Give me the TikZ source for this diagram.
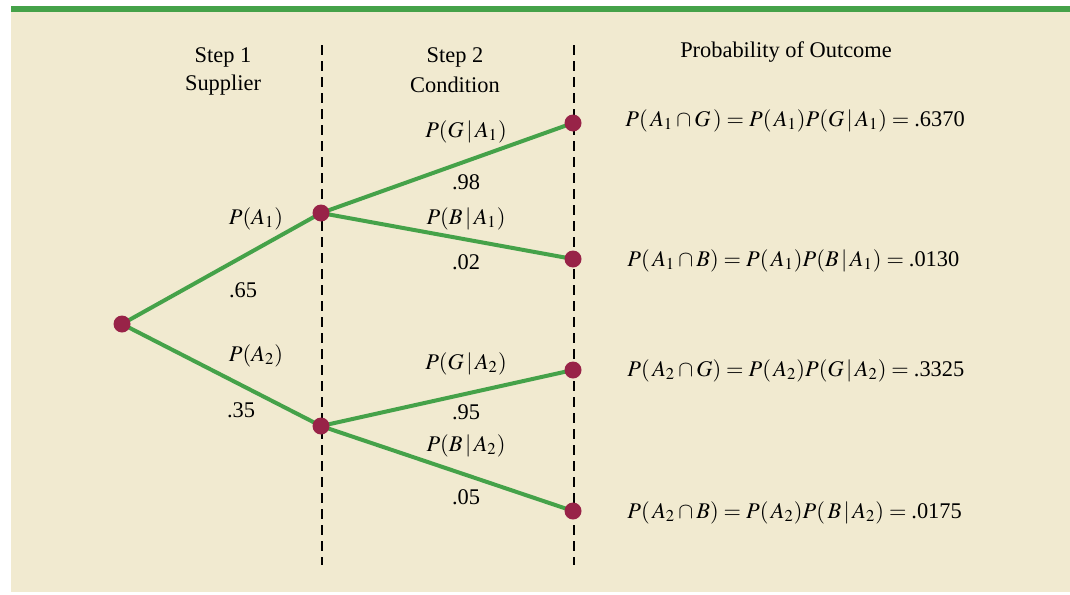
\documentclass[tikz,border=0pt]{standalone}
\usetikzlibrary{backgrounds}
\usepackage{mathptmx}
\usepackage[no-math]{fontspec}
\setmainfont{Liberation Serif}
\definecolor{cream}{HTML}{F1EAD0}
\definecolor{tgreen}{HTML}{45A249}
\definecolor{dotred}{HTML}{982348}
\begin{document}
\begin{tikzpicture}[x=0.5pt,y=-0.5pt,
  every node/.style={font=\fontsize{11.2}{13}\selectfont, inner sep=0pt},
  dot/.style={circle, fill=dotred, minimum size=8.5pt, inner sep=0pt},
  branch/.style={tgreen, line width=2pt},
  divider/.style={black, line width=0.7pt, dash pattern=on 5pt off 3pt},
  lbl/.style={anchor=center}]
\useasboundingbox (0,0) rectangle (1070,594);
% nodes
\node[dot] (r) at (122,324) {};
\node[dot] (a1) at (321,213) {};
\node[dot] (a2) at (321,426) {};
\node[dot] (l1) at (573,123) {};
\node[dot] (l2) at (573,259) {};
\node[dot] (l3) at (573,370) {};
\node[dot] (l4) at (573,511) {};
\begin{scope}[on background layer]
\fill[white] (0,0) rectangle (1070,594);
\fill[cream] (11,12) rectangle (1070,592);
\fill[tgreen] (11,6) rectangle (1070,12);
\coordinate (d1t) at (322,45); \coordinate (d1b) at (322,565);
\coordinate (d2t) at (574,45); \coordinate (d2b) at (574,565);
\draw[divider] (d1t) -- (d1b);
\draw[divider] (d2t) -- (d2b);
\draw[branch] (r.center) -- (a1.center);
\draw[branch] (r.center) -- (a2.center);
\draw[branch] (a1.center) -- (l1.center);
\draw[branch] (a1.center) -- (l2.center);
\draw[branch] (a2.center) -- (l3.center);
\draw[branch] (a2.center) -- (l4.center);
\end{scope}
% headings
\node[lbl] (h1a) at (223,57) {Step 1};
\node[lbl] (h1b) at (223,85) {Supplier};
\node[lbl] (h2a) at (455,57) {Step 2};
\node[lbl] (h2b) at (455,85) {Condition};
\node[lbl] (h3) at (786,52) {Probability of Outcome};
% branch labels
\node[lbl] (pa1) at (256,219) {$P(A_1)$};
\node[lbl] (p65) at (243,290) {.65};
\node[lbl] (pa2) at (256,356) {$P(A_2)$};
\node[lbl] (p35) at (241,410) {.35};
\node[lbl] (pga1) at (466,132) {$P(G\,|\,A_1)$};
\node[lbl] (p98) at (466,182) {.98};
\node[lbl] (pba1) at (466,219) {$P(B\,|\,A_1)$};
\node[lbl] (p02) at (466,262) {.02};
\node[lbl] (pga2) at (466,364) {$P(G\,|\,A_2)$};
\node[lbl] (p95) at (466,412) {.95};
\node[lbl] (pba2) at (466,446) {$P(B\,|\,A_2)$};
\node[lbl] (p05) at (466,497) {.05};
% outcomes
\node[anchor=west] (o1) at (625,121) {$P(\,A_1\cap G\,)=P(\,A_1)P(G\,|\,A_1)=\mbox{.6370}$};
\node[anchor=west] (o2) at (627,261) {$P(\,A_1\cap B)=P(\,A_1)P(B\,|\,A_1)=\mbox{.0130}$};
\node[anchor=west] (o3) at (627,371) {$P(\,A_2\cap G)=P(\,A_2)P(G\,|\,A_2)=\mbox{.3325}$};
\node[anchor=west] (o4) at (627,513) {$P(\,A_2\cap B)=P(\,A_2)P(\,B\,|\,A_2)=\mbox{.0175}$};
\end{tikzpicture}
\end{document}
